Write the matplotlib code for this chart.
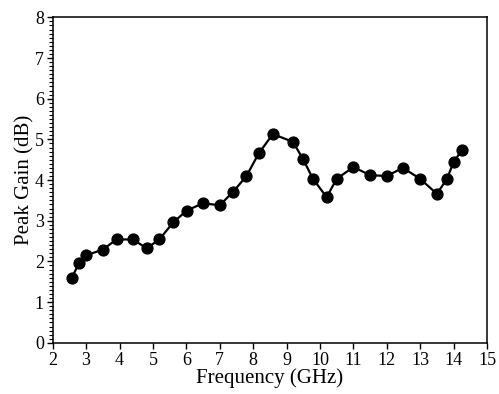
import matplotlib
matplotlib.use("Agg")
import matplotlib.pyplot as plt
from matplotlib.ticker import MultipleLocator

plt.rcParams["font.family"] = ["Liberation Serif", "DejaVu Serif"]

freq = [2.57, 2.8, 3.0, 3.5, 3.91, 4.41, 4.81, 5.19, 5.61, 6.01,
        6.5, 7.0, 7.4, 7.8, 8.17, 8.59, 9.19, 9.49, 9.79, 10.2,
        10.5, 11.0, 11.5, 12.0, 12.48, 13.0, 13.5, 13.8, 14.0, 14.25]
gain = [1.60, 1.97, 2.15, 2.29, 2.54, 2.54, 2.32, 2.54, 2.96, 3.25,
        3.43, 3.38, 3.71, 4.10, 4.66, 5.13, 4.94, 4.52, 4.03, 3.58,
        4.03, 4.32, 4.12, 4.10, 4.30, 4.03, 3.66, 4.03, 4.44, 4.74]

fig = plt.figure(figsize=(4.99, 3.94), dpi=100)
ax = fig.add_axes([0.1056, 0.130, 0.8704, 0.826])

ax.plot(freq, gain, color="black", lw=1.6, marker="o", ms=7.8)

ax.set_xlim(2, 15)
ax.set_ylim(0, 8)
ax.xaxis.set_major_locator(MultipleLocator(1))
ax.yaxis.set_major_locator(MultipleLocator(1))
ax.yaxis.set_minor_locator(MultipleLocator(0.1))
ax.tick_params(axis="both", which="major", direction="out", length=4.3, width=1,
               labelsize=13, pad=2, top=False, right=False)
ax.tick_params(axis="y", which="minor", direction="out", length=2.8, width=0.8)
for s in ax.spines.values():
    s.set_linewidth(1.1)

ax.set_xlabel("Frequency (GHz)", fontsize=15, labelpad=0)
ax.set_ylabel("Peak Gain (dB)", fontsize=15, labelpad=0.5)

fig.savefig("out.png", dpi=100)
